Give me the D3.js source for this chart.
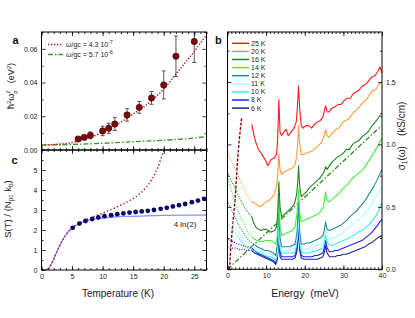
<!DOCTYPE html>
<html>
<head>
<meta charset="utf-8">
<script src="https://cdn.jsdelivr.net/npm/d3@7"></script>
<style>
  body { margin: 0; background: #fff; }
  svg { display: block; font-family: "Liberation Sans", Arial, sans-serif; }
  .tick line { stroke: #000; stroke-width: 0.8; }
  .tick text { font-size: 7px; fill: #222; }
</style>
</head>
<body>
<svg id="fig" width="415" height="318"></svg>
<script>
// ---- panel a : plasma frequency vs temperature ----
const tA = [6, 7, 8, 10, 11, 12, 14, 16, 18, 20, 22, 25];
const omegaA = [0.0065, 0.0075, 0.0087, 0.0113, 0.0129, 0.0154, 0.0208, 0.0253, 0.0309, 0.0386, 0.0556, 0.0644];
const errA = [0.001, 0.0013, 0.002, 0.0028, 0.003, 0.0038, 0.0037, 0.0035, 0.0038, 0.0083, 0.012, 0.0125];
const fitRedT = [0, 2.5, 5, 7.5, 10, 12.5, 15, 17.5, 20, 22.5, 25, 27];
const fitRedY = [0.003, 0.0034, 0.0044, 0.0069, 0.0105, 0.0154, 0.0214, 0.0277, 0.0362, 0.0472, 0.0585, 0.0683];
const fitGreenT = [0, 5, 10, 15, 20, 25, 27];
const fitGreenY = [0.0029, 0.0033, 0.004, 0.0049, 0.0058, 0.0071, 0.0079];

// ---- panel c : entropy ----
const tC = [5.1, 6.2, 7.2, 8.3, 9.3, 10.3, 11.4, 12.4, 13.4, 14.4, 15.4, 16.4, 17.4, 18.4, 19.5, 20.5, 21.5, 22.5, 23.5, 24.6, 25.6, 26.6];
const sC = [2.11, 2.32, 2.45, 2.55, 2.63, 2.69, 2.74, 2.79, 2.83, 2.87, 2.9, 2.93, 2.96, 3.0, 3.06, 3.11, 3.18, 3.24, 3.3, 3.39, 3.47, 3.56];
const isingT = [0, 0.8, 1.2, 1.6, 2, 2.5, 3, 3.5, 4, 4.5, 5, 6, 7, 8, 9, 10, 12, 14, 17, 20, 24, 27];
const isingS = [0, 0, 0.08, 0.3, 0.55, 0.9, 1.23, 1.52, 1.76, 1.95, 2.1, 2.3, 2.42, 2.5, 2.56, 2.6, 2.65, 2.68, 2.71, 2.73, 2.74, 2.75];
const fitCT = [0, 0.8, 1.2, 1.6, 2, 2.5, 3, 3.5, 4, 4.5, 5, 6, 7, 8, 9, 10, 11, 12, 13, 14, 15, 16, 17, 18, 19, 20, 20.2];
const fitCS = [0, 0, 0.08, 0.3, 0.55, 0.9, 1.23, 1.52, 1.76, 1.95, 2.1, 2.32, 2.47, 2.6, 2.72, 2.84, 2.97, 3.1, 3.25, 3.4, 3.57, 3.8, 4.08, 4.5, 5.1, 5.95, 6.1];

// ---- panel b : optical conductivity spectra [energy meV, sigma kS/cm] ----
const spec25 = [[6.3,1.16],[6.8,1.08],[7.3,1.02],[8,0.96],[8.7,0.93],[9.3,0.9],[9.9,0.87],[10.4,0.83],[10.8,0.85],[11.3,0.88],[12,0.89],[12.7,0.92],[13,1.05],[13.3,1.36],[13.6,1.1],[14,1.07],[14.6,1.1],[15.2,1.12],[15.7,1.07],[16.5,1.1],[17.2,1.13],[17.8,1.18],[18.1,1.3],[18.4,1.47],[18.7,1.28],[19.1,1.15],[19.6,1.13],[20.3,1.15],[21,1.15],[21.8,1.13],[22.5,1.16],[23.3,1.18],[24,1.19],[24.7,1.22],[25.1,1.27],[25.4,1.31],[25.8,1.26],[26.3,1.26],[27,1.29],[27.8,1.3],[28.6,1.32],[29.4,1.32],[30.2,1.35],[31,1.37],[31.8,1.37],[32.6,1.41],[33.4,1.42],[34.2,1.44],[35,1.47],[35.8,1.48],[36.6,1.51],[37.4,1.54],[38.2,1.55],[39,1.59],[39.5,1.62],[40,1.57]];
const spec20 = [[6.3,0.54],[7,0.53],[7.8,0.51],[8.5,0.5],[9.2,0.52],[10,0.54],[10.7,0.55],[11.4,0.57],[12.1,0.6],[12.7,0.66],[13,0.75],[13.3,0.92],[13.6,0.8],[14,0.76],[14.6,0.78],[15.3,0.79],[16,0.8],[16.7,0.81],[17.4,0.83],[17.9,0.9],[18.2,1.02],[18.4,1.15],[18.7,1.0],[19.1,0.92],[19.7,0.92],[20.4,0.93],[21.2,0.94],[22,0.95],[22.8,0.97],[23.6,0.99],[24.4,1.02],[25,1.07],[25.4,1.12],[25.8,1.07],[26.4,1.06],[27.2,1.09],[28,1.12],[28.8,1.13],[29.6,1.17],[30.4,1.19],[31.2,1.2],[32,1.23],[32.8,1.26],[33.6,1.28],[34.4,1.31],[35.2,1.34],[36,1.36],[36.8,1.4],[37.6,1.43],[38.4,1.44],[39.2,1.48],[40,1.5]];
const spec16 = [[6.3,0.42],[6.8,0.37],[7.3,0.34],[8,0.32],[8.7,0.31],[9.4,0.32],[10.1,0.32],[10.8,0.3],[11.5,0.3],[12.2,0.31],[12.7,0.34],[13,0.45],[13.3,0.7],[13.6,0.5],[14,0.42],[14.7,0.44],[15.4,0.46],[16.1,0.48],[16.8,0.5],[17.4,0.53],[17.9,0.6],[18.2,0.7],[18.4,0.83],[18.7,0.66],[19.1,0.58],[19.7,0.6],[20.4,0.62],[21.1,0.65],[21.8,0.67],[22.5,0.69],[23.2,0.71],[23.9,0.73],[24.6,0.76],[25.1,0.79],[25.4,0.82],[25.8,0.8],[26.4,0.83],[27.1,0.86],[27.8,0.88],[28.5,0.9],[29.2,0.91],[30,0.93],[30.8,0.96],[31.6,0.96],[32.4,1.0],[33.2,1.02],[34,1.03],[34.8,1.06],[35.6,1.08],[36.4,1.1],[37.2,1.14],[38,1.17],[38.8,1.2],[39.4,1.23],[40,1.22]];
const spec14 = [[6.3,0.26],[7,0.24],[7.7,0.23],[8.4,0.22],[9.1,0.22],[9.8,0.23],[10.5,0.23],[11.2,0.23],[11.9,0.22],[12.5,0.2],[12.9,0.27],[13.3,0.58],[13.6,0.35],[14,0.27],[14.7,0.28],[15.4,0.29],[16.1,0.3],[16.8,0.31],[17.5,0.34],[18,0.45],[18.4,0.64],[18.7,0.45],[19.1,0.38],[19.8,0.39],[20.5,0.4],[21.2,0.41],[21.9,0.42],[22.6,0.43],[23.3,0.44],[24,0.46],[24.7,0.49],[25.1,0.55],[25.4,0.62],[25.8,0.55],[26.4,0.54],[27.1,0.56],[27.8,0.58],[28.5,0.6],[29.2,0.62],[30,0.65],[30.8,0.67],[31.6,0.7],[32.4,0.73],[33.2,0.75],[34,0.77],[34.8,0.79],[35.6,0.82],[36.4,0.86],[37.2,0.9],[38,0.94],[38.8,0.98],[39.4,1.02],[40,1.05]];
const spec12 = [[7,0.2],[7.7,0.18],[8.4,0.17],[9.1,0.16],[9.8,0.15],[10.5,0.15],[11.2,0.14],[11.9,0.13],[12.5,0.11],[12.9,0.2],[13.3,0.5],[13.6,0.25],[14,0.18],[14.7,0.18],[15.4,0.18],[16.1,0.18],[16.8,0.19],[17.5,0.2],[18,0.3],[18.4,0.52],[18.7,0.3],[19.1,0.2],[19.8,0.2],[20.5,0.21],[21.2,0.21],[21.9,0.22],[22.6,0.23],[23.3,0.24],[24,0.25],[24.7,0.27],[25.1,0.32],[25.4,0.38],[25.8,0.32],[26.4,0.31],[27.1,0.32],[27.8,0.33],[28.5,0.34],[29.2,0.35],[30,0.37],[30.8,0.39],[31.6,0.42],[32.4,0.44],[33.2,0.46],[34,0.49],[34.8,0.52],[35.6,0.55],[36.4,0.59],[37.2,0.63],[38,0.67],[38.8,0.72],[39.4,0.76],[40,0.8]];
const spec11 = [[7,0.17],[7.7,0.16],[8.4,0.15],[9.1,0.14],[9.8,0.13],[10.5,0.12],[11.2,0.12],[11.9,0.11],[12.5,0.09],[12.9,0.15],[13.3,0.4],[13.6,0.2],[14,0.15],[14.7,0.15],[15.4,0.15],[16.1,0.15],[16.8,0.16],[17.5,0.17],[18,0.25],[18.4,0.45],[18.7,0.25],[19.1,0.17],[19.8,0.16],[20.5,0.16],[21.2,0.17],[21.9,0.17],[22.6,0.18],[23.3,0.19],[24,0.2],[24.7,0.22],[25.1,0.27],[25.4,0.32],[25.8,0.27],[26.4,0.24],[27.1,0.25],[27.8,0.25],[28.5,0.27],[29.2,0.28],[30,0.3],[30.8,0.32],[31.6,0.34],[32.4,0.36],[33.2,0.38],[34,0.4],[34.8,0.42],[35.6,0.45],[36.4,0.48],[37.2,0.52],[38,0.56],[38.8,0.6],[39.4,0.63],[40,0.66]];
const spec10 = [[7,0.15],[7.7,0.14],[8.4,0.13],[9.1,0.12],[9.8,0.11],[10.5,0.1],[11.2,0.1],[11.9,0.09],[12.5,0.07],[12.9,0.12],[13.3,0.35],[13.6,0.17],[14,0.13],[14.7,0.13],[15.4,0.13],[16.1,0.13],[16.8,0.13],[17.5,0.14],[18,0.22],[18.4,0.4],[18.7,0.22],[19.1,0.14],[19.8,0.13],[20.5,0.13],[21.2,0.13],[21.9,0.14],[22.6,0.14],[23.3,0.15],[24,0.16],[24.7,0.17],[25.1,0.22],[25.4,0.27],[25.8,0.22],[26.4,0.19],[27.1,0.19],[27.8,0.2],[28.5,0.21],[29.2,0.22],[30,0.23],[30.8,0.24],[31.6,0.25],[32.4,0.27],[33.2,0.28],[34,0.3],[34.8,0.31],[35.6,0.33],[36.4,0.35],[37.2,0.38],[38,0.41],[38.8,0.45],[39.4,0.49],[40,0.53]];
const spec8 = [[6.3,0.17],[7,0.15],[7.7,0.13],[8.4,0.12],[9.1,0.11],[9.8,0.1],[10.5,0.09],[11.2,0.08],[11.9,0.07],[12.5,0.05],[12.9,0.1],[13.3,0.3],[13.6,0.14],[14,0.1],[14.7,0.1],[15.4,0.1],[16.1,0.1],[16.8,0.1],[17.5,0.11],[18,0.18],[18.4,0.35],[18.7,0.18],[19.1,0.11],[19.8,0.1],[20.5,0.1],[21.2,0.1],[21.9,0.1],[22.6,0.11],[23.3,0.11],[24,0.12],[24.7,0.13],[25.1,0.18],[25.4,0.23],[25.8,0.17],[26.4,0.14],[27.1,0.14],[27.8,0.15],[28.5,0.15],[29.2,0.16],[30,0.17],[30.8,0.18],[31.6,0.19],[32.4,0.2],[33.2,0.21],[34,0.22],[34.8,0.23],[35.6,0.25],[36.4,0.27],[37.2,0.29],[38,0.32],[38.8,0.35],[39.4,0.38],[40,0.4]];
const spec6 = [[6.3,0.15],[7,0.13],[7.7,0.12],[8.4,0.11],[9.1,0.1],[9.8,0.09],[10.5,0.08],[11.2,0.07],[11.9,0.06],[12.5,0.04],[12.9,0.08],[13.3,0.25],[13.6,0.1],[14,0.08],[14.7,0.08],[15.4,0.08],[16.1,0.08],[16.8,0.08],[17.5,0.09],[18,0.15],[18.4,0.3],[18.7,0.15],[19.1,0.09],[19.8,0.08],[20.5,0.08],[21.2,0.08],[21.9,0.08],[22.6,0.08],[23.3,0.08],[24,0.09],[24.7,0.1],[25.1,0.14],[25.4,0.19],[25.8,0.13],[26.4,0.1],[27.1,0.1],[27.8,0.1],[28.5,0.11],[29.2,0.11],[30,0.12],[30.8,0.12],[31.6,0.13],[32.4,0.14],[33.2,0.15],[34,0.16],[34.8,0.17],[35.6,0.18],[36.4,0.2],[37.2,0.21],[38,0.23],[38.8,0.25],[39.4,0.26],[40,0.27]];

// low-energy extrapolations (dotted)
const ext20 = [[0,0.94],[1,0.87],[2,0.8],[3,0.73],[4,0.66],[5,0.6],[6.3,0.54]];
const ext16 = [[0,0.78],[1,0.71],[2,0.65],[3,0.58],[4,0.52],[5,0.47],[6.3,0.42]];
const ext14 = [[0,0.74],[1,0.63],[2,0.53],[3,0.45],[4,0.38],[5,0.31],[6.3,0.26]];
const ext12 = [[0,0.55],[1,0.48],[2,0.41],[3,0.35],[4,0.3],[5,0.25],[6,0.22],[7,0.2]];
const ext11 = [[0,0.46],[1,0.4],[2,0.34],[3,0.29],[4,0.25],[5,0.21],[6,0.19],[7,0.17]];
const ext10 = [[0,0.37],[1,0.33],[2,0.29],[3,0.25],[4,0.21],[5,0.18],[6,0.16],[7,0.15]];
const ext8 = [[0,0.24],[1,0.23],[2,0.21],[3,0.2],[4,0.19],[5,0.18],[6.3,0.17]];
const ext6 = [[0,0.18],[1,0.17],[2,0.17],[3,0.16],[4,0.16],[5,0.15],[6.3,0.15]];
const drudeLine = [[0.5,0],[0.8,0.15],[1.3,0.34],[1.95,0.56],[2.8,0.95],[3.7,1.22]];
const linearLine = [[0,0],[39.5,1.14]];

const tempLabels = ["25 K", "20 K", "16 K", "14 K", "12 K", "11 K", "10 K", "8 K", "6 K"];
const tempColors = ["#ff1a1a", "#ff9a3c", "#1b8a1b", "#44ee44", "#1f8f8f", "#aaffff", "#33f0f0", "#2222ff", "#232390"];
const solids = [spec25, spec20, spec16, spec14, spec12, spec11, spec10, spec8, spec6];
const dotted = [null, ext20, ext16, ext14, ext12, ext11, ext10, ext8, ext6];

const svg = d3.select("#fig");
svg.append("rect").attr("width", 415).attr("height", 318).attr("fill", "#fff");

// scales
const xT = d3.scaleLinear().domain([0, 27]).range([41.5, 206.5]);
const yA = d3.scaleLinear().domain([0, 0.07]).range([150, 32]);
const yC = d3.scaleLinear().domain([0, 6]).range([270, 150]);
const xE = d3.scaleLinear().domain([0, 40]).range([227.5, 382]);
const yB = d3.scaleLinear().domain([0, 1.9]).range([269.3, 32]);

function clip(id, x, y) {
  svg.append("clipPath").attr("id", id).append("rect")
    .attr("x", x.range()[0]).attr("y", y.range()[1])
    .attr("width", x.range()[1] - x.range()[0])
    .attr("height", y.range()[0] - y.range()[1]);
}
clip("clipA", xT, yA);
clip("clipC", xT, yC);
clip("clipB", xE, yB);

function frame(x, y, o) {
  const [x0, x1] = x.range();
  const [y0, y1] = y.range();
  const g = svg.append("g");
  const sides = [
    [d3.axisBottom, x, `translate(0,${y0})`, o.xMajor, o.xMinor, o.bottom],
    [d3.axisTop, x, `translate(0,${y1})`, o.xMajor, o.xMinor, null],
    [d3.axisLeft, y, `translate(${x0},0)`, o.yMajor, o.yMinor, o.left],
    [d3.axisRight, y, `translate(${x1},0)`, o.yMajor, o.yMinor, o.right],
  ];
  sides.forEach(([ax, s, tr, major, minor, fmt]) => {
    g.append("g").attr("transform", tr)
      .call(ax(s).tickValues(minor).tickSize(-2).tickFormat(""))
      .call((a) => a.select(".domain").remove());
    g.append("g").attr("transform", tr)
      .call(ax(s).tickValues(major).tickSize(-4).tickPadding(fmt ? 4 : 0).tickFormat(fmt || (() => "")))
      .call((a) => a.select(".domain").remove());
  });
  g.append("rect").attr("x", x0).attr("y", y1).attr("width", x1 - x0).attr("height", y0 - y1)
    .attr("fill", "none").attr("stroke", "#000").attr("stroke-width", 1);
}

const line = (x, y) => d3.line().x((d) => x(d[0])).y((d) => y(d[1]));

// ---------- panel a ----------
const gA = svg.append("g").attr("clip-path", "url(#clipA)");
gA.append("path").datum(d3.zip(fitGreenT, fitGreenY))
  .attr("d", line(xT, yA).curve(d3.curveMonotoneX))
  .attr("fill", "none").attr("stroke", "#3a9a2a").attr("stroke-width", 1.4)
  .attr("stroke-dasharray", "5,2,1.5,2");
gA.append("path").datum(d3.zip(fitRedT, fitRedY))
  .attr("d", line(xT, yA).curve(d3.curveMonotoneX))
  .attr("fill", "none").attr("stroke", "#b02424").attr("stroke-width", 1.4)
  .attr("stroke-dasharray", "1.4,1.6");
const ptsA = d3.zip(tA, omegaA, errA);
gA.selectAll(".err").data(ptsA).join("path").attr("class", "err")
  .attr("d", (d) => {
    const x = xT(d[0]), lo = yA(d[1] - d[2]), hi = yA(d[1] + d[2]);
    return `M${x},${lo}V${hi}M${x - 2},${lo}H${x + 2}M${x - 2},${hi}H${x + 2}`;
  })
  .attr("stroke", "#333").attr("stroke-width", 0.8).attr("fill", "none");
gA.selectAll(".pt").data(ptsA).join("circle").attr("class", "pt")
  .attr("cx", (d) => xT(d[0])).attr("cy", (d) => yA(d[1])).attr("r", 3.2)
  .attr("fill", "#7a0808").attr("stroke", "#3a0000").attr("stroke-width", 0.5);

frame(xT, yA, {
  xMajor: d3.range(0, 28, 5), xMinor: d3.range(0, 28, 1),
  yMajor: [0, 0.02, 0.04, 0.06], yMinor: [0.01, 0.03, 0.05, 0.07],
  bottom: null, left: d3.format(".2f"), right: null,
});

// legend a
const legA = svg.append("g");
legA.append("line").attr("x1", 48).attr("x2", 63).attr("y1", 44.5).attr("y2", 44.5)
  .attr("stroke", "#b02424").attr("stroke-width", 1.4).attr("stroke-dasharray", "1.4,1.6");
legA.append("line").attr("x1", 48).attr("x2", 63).attr("y1", 54.5).attr("y2", 54.5)
  .attr("stroke", "#3a9a2a").attr("stroke-width", 1.4).attr("stroke-dasharray", "5,2,1.5,2");
[["4.3", "-7", 44.5], ["5.7", "-6", 54.5]].forEach(([v, e, yy]) => {
  const t = legA.append("text").attr("x", 66).attr("y", yy).attr("dy", "0.35em")
    .attr("font-size", 7).attr("fill", "#222");
  t.append("tspan").text(`\u03c9/gc = ${v} 10`);
  t.append("tspan").attr("dy", -3).attr("font-size", 5).text(e);
});

// y label a
const labA = svg.append("text").attr("transform", "translate(14,86) rotate(-90)")
  .attr("text-anchor", "middle").attr("font-size", 9).attr("fill", "#222");
labA.append("tspan").text("\u0127");
labA.append("tspan").attr("dy", -3.5).attr("font-size", 6).text("2");
labA.append("tspan").attr("dy", 3.5).text("\u03c9");
labA.append("tspan").attr("dy", 2.5).attr("font-size", 6).text("p");
labA.append("tspan").attr("dx", -3.3).attr("dy", -6.5).attr("font-size", 6).text("2");
labA.append("tspan").attr("dx", 7).attr("dy", 4).text("(eV");
labA.append("tspan").attr("dy", -3.5).attr("font-size", 6).text("2");
labA.append("tspan").attr("dy", 3.5).text(")");

// ---------- panel c ----------
const gC = svg.append("g").attr("clip-path", "url(#clipC)");
gC.append("path").datum(d3.zip(isingT, isingS))
  .attr("d", line(xT, yC).curve(d3.curveMonotoneX))
  .attr("fill", "none").attr("stroke", "#8e8eff").attr("stroke-width", 1.3);
gC.append("path").datum(d3.zip(fitCT, fitCS))
  .attr("d", line(xT, yC).curve(d3.curveMonotoneX))
  .attr("fill", "none").attr("stroke", "#a82020").attr("stroke-width", 1.4)
  .attr("stroke-dasharray", "1.4,2.2");
gC.selectAll(".pc").data(d3.zip(tC, sC)).join("circle").attr("class", "pc")
  .attr("cx", (d) => xT(d[0])).attr("cy", (d) => yC(d[1])).attr("r", 2.4)
  .attr("fill", "#0a0a6a");

frame(xT, yC, {
  xMajor: d3.range(0, 28, 5), xMinor: d3.range(0, 28, 1),
  yMajor: d3.range(0, 7, 1), yMinor: d3.range(0.5, 6, 1),
  bottom: (d) => d, left: (d) => (d === 6 ? "" : d), right: null,
});

svg.append("text").attr("x", 185).attr("y", 224).attr("dy", "0.35em")
  .attr("text-anchor", "middle").attr("font-size", 8).attr("fill", "#222").text("4 ln(2)");

const labC = svg.append("text").attr("transform", "translate(11,209) rotate(-90)")
  .attr("text-anchor", "middle").attr("font-size", 9.5).attr("fill", "#222");
labC.append("tspan").text("S(T) / (N");
labC.append("tspan").attr("dy", 2).attr("font-size", 6.5).text("pc");
labC.append("tspan").attr("dy", -2).text(" k");
labC.append("tspan").attr("dy", 2).attr("font-size", 6.5).text("b");
labC.append("tspan").attr("dy", -2).text(")");

svg.append("text").attr("x", 118).attr("y", 297).attr("text-anchor", "middle")
  .attr("font-size", 10).attr("fill", "#222").text("Temperature (K)");

// ---------- panel b ----------
const gB = svg.append("g").attr("clip-path", "url(#clipB)");
gB.append("path").datum(linearLine).attr("d", line(xE, yB))
  .attr("fill", "none").attr("stroke", "#2d8a22").attr("stroke-width", 1.3)
  .attr("stroke-dasharray", "5,2,1.5,2");
gB.append("path").datum(drudeLine).attr("d", line(xE, yB).curve(d3.curveMonotoneX))
  .attr("fill", "none").attr("stroke", "#8b0a0a").attr("stroke-width", 1.4)
  .attr("stroke-dasharray", "3,1.5");
dotted.forEach((ext, i) => {
  if (!ext) return;
  gB.append("path").datum(ext).attr("d", line(xE, yB).curve(d3.curveMonotoneX))
    .attr("fill", "none").attr("stroke", tempColors[i]).attr("stroke-width", 1.2)
    .attr("stroke-dasharray", "1,1.4");
});
solids.slice().reverse().forEach((spec, j) => {
  const i = solids.length - 1 - j;
  gB.append("path").datum(spec).attr("d", line(xE, yB))
    .attr("fill", "none").attr("stroke", tempColors[i]).attr("stroke-width", 1.1)
    .attr("stroke-linejoin", "round");
});

frame(xE, yB, {
  xMajor: d3.range(0, 41, 10), xMinor: d3.range(0, 41, 1),
  yMajor: [0, 0.5, 1, 1.5], yMinor: [0.25, 0.75, 1.25, 1.75],
  bottom: (d) => d, left: null, right: d3.format(".1f"),
});

const legB = svg.append("g").selectAll("g").data(tempLabels).join("g")
  .attr("transform", (d, i) => `translate(0,${43.3 + i * 8.1})`);
legB.append("line").attr("x1", 232).attr("x2", 249).attr("stroke-width", 1.5)
  .attr("stroke", (d, i) => tempColors[i]);
legB.append("text").attr("x", 251).attr("dy", "0.35em").attr("font-size", 7)
  .attr("fill", "#222").text((d) => d);

const labB = svg.append("text").attr("transform", "translate(405,136) rotate(-90)")
  .attr("text-anchor", "middle").attr("font-size", 10).attr("fill", "#222");
labB.append("tspan").text("\u03c3");
labB.append("tspan").attr("dy", 2).attr("font-size", 6.5).text("1");
labB.append("tspan").attr("dy", -2).text("(\u03c9)\u2003(kS/cm)");

svg.append("text").attr("x", 305).attr("y", 297).attr("text-anchor", "middle")
  .attr("font-size", 10.5).attr("fill", "#222").attr("xml:space", "preserve").text("Energy  (meV)");

// panel letters
[["a", 12.5, 44], ["c", 11.5, 164], ["b", 215, 44]].forEach(([t, x, y]) => {
  svg.append("text").attr("x", x).attr("y", y).attr("font-size", 11)
    .attr("font-weight", "bold").attr("fill", "#111").text(t);
});
</script>
</body>
</html>
